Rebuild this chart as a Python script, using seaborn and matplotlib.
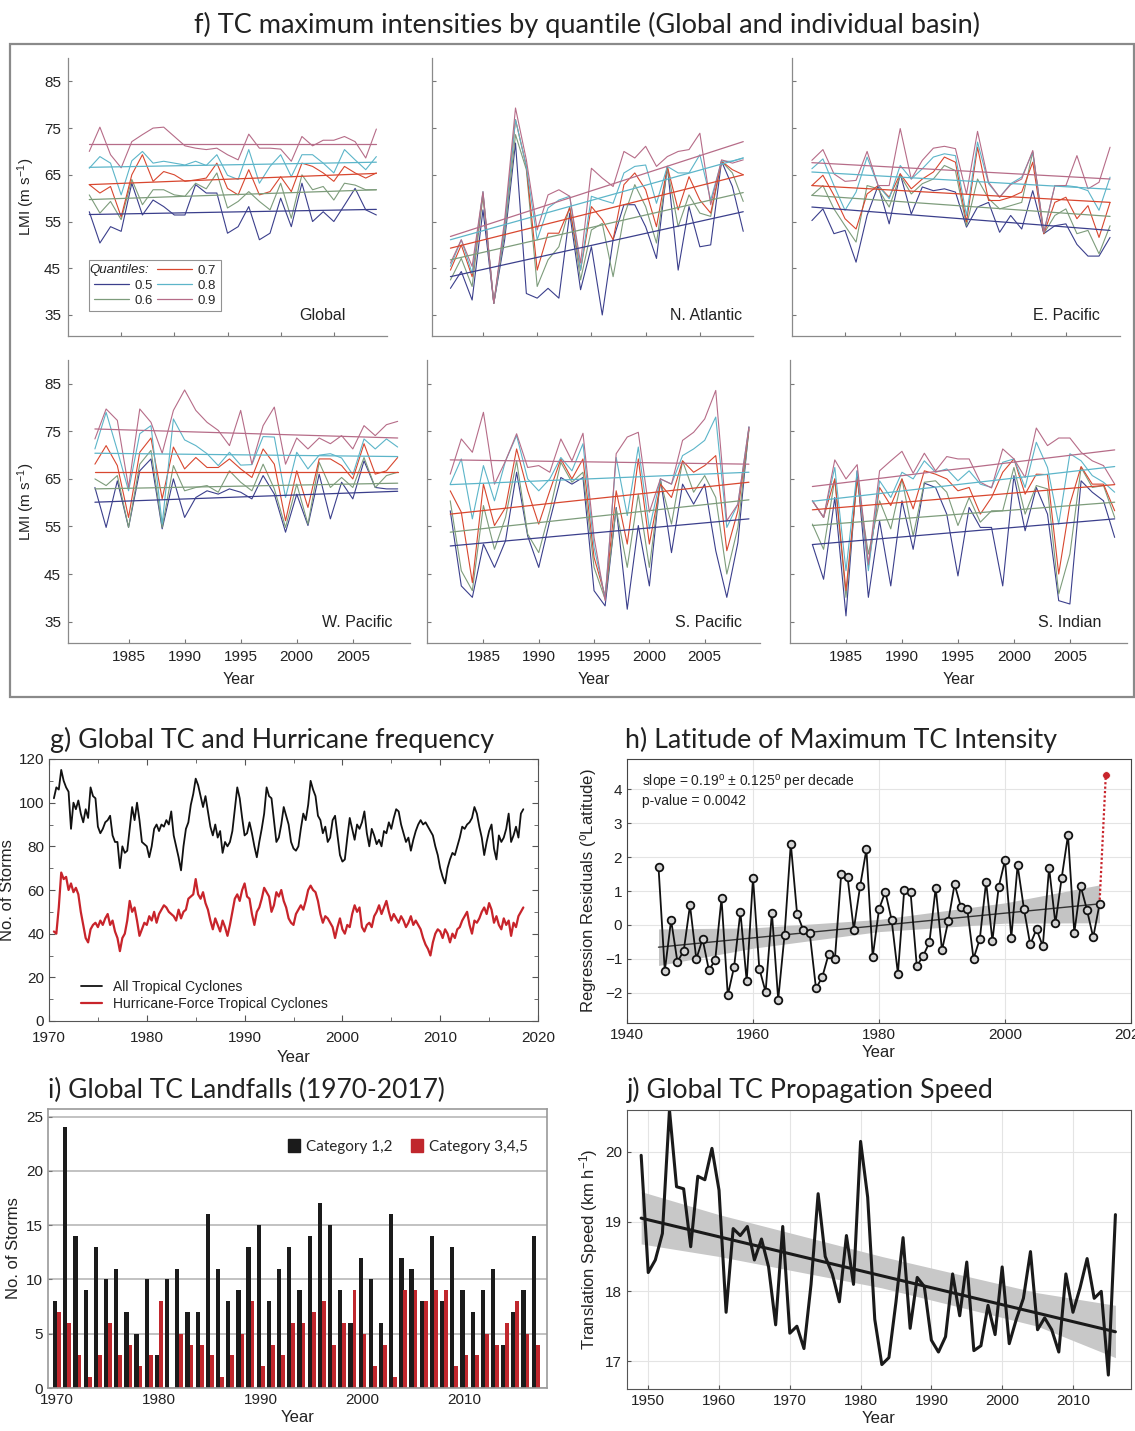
import numpy as np
import pandas as pd
import matplotlib
matplotlib.use('Agg')
import matplotlib.pyplot as plt
import seaborn as sns
from matplotlib.lines import Line2D
from matplotlib.patches import Patch, Rectangle

# ---------------- f) LMI by quantile, 1982-2009 ----------------
f_years = list(range(1982, 2010))
quantiles = ['0.5', '0.6', '0.7', '0.8', '0.9']
q_colors = ['#3b3f8c', '#7d9c7b', '#d8472f', '#5cb5c9', '#b66c88']

glob_q5 = [57.1, 50.4, 53.9, 52.9, 63.2, 56.4, 59.6, 58.2, 56.4, 56.4, 62.9, 61.1, 61.1, 52.5, 53.9, 58.2, 51.1, 52.5, 60.0, 53.9, 63.2, 55.0, 57.1, 55.0, 58.5, 62.1, 57.5, 56.4]
glob_q6 = [60.7, 56.8, 59.3, 55.4, 64.0, 58.6, 61.8, 61.8, 60.7, 60.4, 63.2, 62.0, 65.4, 57.9, 59.3, 61.4, 59.3, 57.5, 63.2, 55.7, 65.0, 61.8, 62.5, 59.6, 63.2, 62.8, 61.8, 61.8]
glob_q7 = [62.9, 61.1, 62.5, 56.0, 65.0, 69.3, 63.6, 65.7, 65.0, 63.6, 63.9, 64.3, 67.5, 62.1, 60.7, 66.1, 60.7, 61.4, 64.6, 61.4, 67.5, 66.8, 65.4, 63.6, 66.8, 65.4, 64.3, 65.4]
glob_q8 = [66.4, 68.9, 67.5, 60.7, 68.0, 70.0, 67.5, 67.9, 67.5, 67.1, 67.9, 67.0, 69.3, 64.9, 64.0, 70.4, 63.2, 66.8, 69.3, 64.6, 69.3, 69.3, 67.5, 65.4, 70.4, 68.2, 66.1, 68.9]
glob_q9 = [70.0, 75.2, 69.3, 66.5, 72.1, 73.6, 75.0, 75.2, 73.2, 71.2, 70.7, 70.4, 70.7, 69.3, 68.2, 73.7, 70.7, 70.7, 70.5, 67.9, 73.2, 71.2, 72.4, 72.4, 73.2, 72.1, 68.6, 74.8]
glob_trend_start = [56.5, 59.7, 62.9, 66.6, 71.5]
glob_trend_end = [57.6, 61.8, 65.3, 67.7, 71.5]

natl_q5 = [40.7, 44.3, 38.2, 57.5, 37.5, 51.1, 71.8, 39.6, 38.6, 40.7, 38.6, 56.8, 40.4, 49.6, 35.0, 51.1, 58.6, 58.6, 53.9, 47.1, 66.8, 44.6, 58.2, 49.6, 50.0, 67.9, 62.5, 52.9]
natl_q6 = [42.5, 47.1, 41.1, 60.4, 37.5, 52.5, 73.6, 66.1, 41.1, 46.8, 49.6, 58.2, 42.5, 53.2, 54.6, 43.2, 56.1, 62.9, 58.2, 50.4, 66.4, 53.9, 60.7, 56.8, 56.1, 67.9, 65.4, 59.3]
natl_q7 = [44.6, 50.0, 43.2, 61.1, 37.5, 53.9, 76.8, 66.8, 44.6, 52.5, 52.5, 57.9, 44.6, 58.2, 55.4, 51.1, 62.9, 65.4, 61.8, 53.9, 66.8, 57.5, 64.6, 59.6, 56.8, 67.9, 66.1, 65.0]
natl_q8 = [45.4, 51.1, 43.9, 61.4, 37.5, 53.9, 76.8, 66.8, 51.1, 57.9, 59.6, 60.4, 44.6, 60.4, 59.6, 58.9, 65.4, 66.8, 67.1, 58.9, 66.8, 65.4, 65.4, 69.3, 59.6, 67.9, 67.9, 68.6]
natl_q9 = [46.1, 51.1, 45.4, 61.4, 37.5, 55.4, 79.3, 68.2, 53.2, 60.7, 61.8, 60.4, 46.1, 66.4, 64.3, 62.5, 70.0, 68.6, 71.1, 66.8, 68.9, 70.0, 70.4, 73.9, 58.6, 68.2, 67.5, 68.2]
natl_trend_start = [43.2, 46.8, 49.3, 51.1, 51.8]
natl_trend_end = [57.1, 61.2, 65.0, 68.6, 72.1]

epac_q5 = [55.2, 57.7, 52.4, 53.1, 46.3, 56.3, 62.7, 54.5, 65.2, 56.6, 62.4, 61.6, 62.0, 61.3, 53.8, 58.1, 59.1, 52.7, 56.3, 53.4, 61.6, 52.4, 54.1, 54.5, 50.1, 47.6, 47.6, 51.6]
epac_q6 = [60.6, 62.7, 57.7, 54.1, 50.6, 62.7, 62.0, 58.1, 64.9, 60.9, 63.1, 64.1, 67.0, 65.9, 54.1, 64.1, 59.9, 57.7, 58.4, 59.1, 69.9, 52.4, 56.3, 57.7, 52.4, 53.1, 48.1, 54.1]
epac_q7 = [62.7, 64.9, 60.6, 55.6, 53.4, 60.9, 62.7, 60.2, 65.2, 62.0, 64.1, 65.6, 68.8, 67.7, 54.9, 70.9, 59.5, 59.5, 60.2, 61.3, 67.7, 52.4, 59.1, 60.2, 55.6, 58.4, 51.6, 59.1]
epac_q8 = [66.3, 68.4, 62.7, 57.4, 61.3, 68.8, 62.7, 59.9, 67.0, 64.1, 66.3, 68.8, 69.5, 69.1, 56.3, 72.0, 63.1, 60.2, 63.1, 64.5, 69.9, 52.7, 62.7, 62.7, 62.4, 61.6, 57.4, 64.5]
epac_q9 = [68.1, 70.4, 65.2, 63.6, 63.8, 70.0, 62.7, 62.7, 74.9, 64.1, 68.1, 70.7, 71.1, 70.6, 60.9, 74.3, 63.4, 60.2, 62.9, 64.1, 70.2, 52.7, 62.7, 62.7, 69.1, 62.0, 63.4, 70.9]
epac_trend_start = [58.1, 60.6, 62.7, 65.6, 67.6]
epac_trend_end = [53.1, 56.1, 59.1, 61.9, 64.1]

wpac_q5 = [63.2, 54.8, 64.6, 54.8, 66.7, 69.2, 54.5, 65.0, 56.9, 61.1, 62.5, 61.8, 62.9, 62.2, 60.8, 65.7, 61.8, 53.8, 61.8, 55.2, 66.0, 56.6, 64.3, 60.8, 68.8, 63.2, 62.9, 62.9]
wpac_q6 = [65.0, 63.6, 65.7, 54.8, 68.1, 71.0, 54.8, 67.8, 62.5, 63.2, 63.6, 62.2, 66.7, 64.3, 62.5, 68.1, 62.9, 54.8, 63.9, 55.5, 68.5, 63.2, 65.3, 63.2, 69.5, 63.2, 65.7, 66.4]
wpac_q7 = [68.1, 72.0, 67.8, 56.9, 70.6, 73.6, 60.8, 71.7, 67.1, 69.5, 67.4, 67.4, 69.2, 67.1, 65.3, 71.3, 68.1, 56.2, 66.7, 59.0, 69.2, 69.2, 67.8, 65.0, 72.4, 66.0, 66.7, 69.5]
wpac_q8 = [71.3, 79.0, 71.0, 62.5, 74.5, 76.2, 55.5, 77.6, 73.2, 72.0, 70.3, 67.8, 70.6, 67.9, 68.0, 73.9, 73.8, 61.1, 70.6, 67.1, 70.0, 70.3, 69.4, 65.9, 73.4, 71.3, 73.4, 71.7]
wpac_q9 = [73.4, 79.7, 77.3, 63.2, 79.7, 76.9, 70.4, 79.4, 83.7, 79.4, 76.9, 75.2, 72.0, 79.4, 68.1, 76.2, 80.1, 68.1, 73.6, 71.3, 73.6, 72.4, 74.1, 71.3, 76.2, 74.1, 76.4, 77.1]
wpac_trend_start = [60.1, 62.9, 66.4, 70.4, 75.5]
wpac_trend_end = [62.4, 64.1, 66.4, 69.7, 73.6]

spac_q5 = [58.3, 42.5, 40.1, 51.3, 46.4, 52.0, 66.4, 53.0, 46.4, 56.2, 65.3, 63.9, 65.3, 41.5, 38.3, 59.0, 37.6, 55.2, 42.5, 65.0, 49.5, 63.9, 59.7, 63.9, 49.9, 40.1, 51.6, 75.9]
spac_q6 = [60.4, 45.7, 41.5, 59.4, 50.2, 56.9, 68.8, 53.4, 49.5, 58.3, 68.5, 64.3, 66.4, 46.4, 39.7, 58.7, 46.4, 61.8, 46.4, 64.6, 55.5, 68.8, 62.2, 65.7, 61.1, 45.0, 54.8, 75.2]
spac_q7 = [62.5, 58.0, 43.2, 63.9, 55.2, 59.0, 71.3, 62.5, 55.5, 62.5, 69.2, 65.0, 69.2, 48.5, 40.4, 62.5, 51.3, 69.2, 51.3, 63.9, 61.1, 68.8, 66.4, 67.8, 69.9, 49.9, 58.3, 75.5]
spac_q8 = [63.9, 69.2, 56.6, 67.8, 60.4, 68.8, 74.1, 65.0, 62.5, 65.0, 69.5, 66.7, 72.4, 50.6, 40.1, 69.5, 57.3, 71.7, 54.5, 65.0, 63.9, 69.9, 71.3, 73.1, 78.0, 54.8, 59.7, 75.9]
spac_q9 = [66.0, 73.4, 70.6, 79.0, 63.9, 68.8, 74.5, 67.4, 67.8, 66.4, 73.4, 68.8, 74.6, 52.7, 39.4, 70.3, 73.8, 74.8, 58.0, 65.0, 63.9, 73.1, 74.8, 77.6, 83.6, 56.2, 59.7, 75.9]
spac_trend_start = [50.9, 53.8, 57.6, 63.8, 69.0]
spac_trend_end = [56.6, 60.6, 64.3, 66.4, 68.1]

sind_q5 = [51.2, 43.9, 61.1, 36.2, 66.7, 40.1, 56.2, 42.5, 60.4, 50.2, 64.1, 63.2, 57.6, 44.6, 59.0, 54.8, 54.8, 42.5, 65.7, 54.1, 63.2, 57.6, 39.4, 38.7, 64.6, 62.2, 60.4, 52.7]
sind_q6 = [55.5, 50.2, 65.0, 40.1, 65.0, 49.2, 60.4, 54.5, 65.0, 53.0, 64.3, 64.6, 62.2, 55.2, 61.1, 55.9, 58.3, 58.3, 67.4, 57.6, 63.6, 62.9, 40.8, 49.2, 67.4, 63.2, 63.6, 56.9]
sind_q7 = [60.4, 56.9, 65.0, 41.5, 65.0, 46.7, 63.2, 59.4, 65.0, 58.7, 66.7, 66.0, 65.0, 62.5, 63.2, 57.6, 61.1, 66.4, 69.2, 61.8, 66.0, 65.9, 45.0, 59.7, 67.6, 63.9, 63.9, 58.3]
sind_q8 = [60.4, 56.9, 67.4, 45.7, 66.7, 45.7, 64.6, 61.1, 66.4, 65.0, 68.8, 66.4, 67.1, 64.6, 66.7, 63.9, 63.2, 68.5, 69.2, 63.2, 72.7, 67.4, 55.5, 70.3, 68.8, 65.7, 64.3, 62.2]
sind_q9 = [60.4, 56.9, 69.0, 65.0, 68.0, 47.1, 66.7, 68.8, 70.8, 66.2, 70.4, 66.7, 69.7, 69.2, 69.2, 64.3, 63.1, 71.3, 69.2, 65.3, 75.7, 72.0, 73.6, 73.6, 70.6, 68.8, 67.8, 63.9]
sind_trend_start = [51.2, 55.2, 58.5, 60.3, 63.4]
sind_trend_end = [56.6, 60.1, 63.8, 67.6, 71.1]

# ---------------- g) storm counts (running, quarterly samples from mid-1970) ----------------
g_start, g_step = 1970.5, 0.25
all_tc = [102, 107,
          106, 115, 110, 107, 105, 88, 100, 97, 101, 95, 91, 97, 93, 107, 103, 102,
          89, 86, 88, 91, 92, 94, 85, 82, 82, 70, 80, 77, 78, 88, 98, 92,
          100, 92, 82, 81, 80, 75, 80, 88, 90, 87, 90, 89, 92, 90, 96, 85,
          80, 75, 69, 80, 88, 91, 99, 104, 111, 108, 103, 98, 103, 96, 89, 85,
          90, 84, 87, 77, 82, 80, 82, 87, 97, 107, 102, 93, 85, 86, 91, 86,
          80, 75, 82, 88, 95, 107, 103, 102, 92, 82, 84, 90, 98, 94, 90, 82,
          79, 78, 80, 88, 95, 92, 99, 110, 106, 103, 94, 92, 86, 89, 82, 84,
          92, 94, 85, 76, 73, 74, 84, 93, 88, 83, 90, 88, 91, 96, 86, 80,
          88, 85, 81, 83, 80, 87, 86, 91, 88, 93, 97, 96, 90, 86, 82, 84,
          78, 83, 87, 90, 92, 90, 91, 89, 87, 85, 80, 76, 70, 66, 63, 70,
          74, 77, 76, 80, 84, 89, 88, 90, 91, 93, 98, 95, 89, 84, 76, 82,
          87, 90, 79, 74, 85, 82, 84, 88, 95, 82, 85, 89, 84, 95, 97]
hurricane_tc = [41, 40,
                52, 68, 65, 66, 60, 63, 59, 61, 58, 50, 44, 38, 36, 42, 44, 45,
                43, 46, 44, 47, 49, 44, 46, 41, 38, 32, 38, 40, 46, 55, 50, 52,
                46, 39, 42, 45, 44, 48, 46, 50, 45, 49, 51, 53, 52, 50, 49, 48,
                46, 51, 47, 50, 51, 56, 57, 58, 65, 58, 56, 59, 54, 51, 46, 42,
                47, 44, 41, 46, 43, 39, 44, 50, 56, 58, 55, 60, 63, 57, 56, 49,
                44, 50, 52, 56, 61, 59, 57, 50, 53, 59, 57, 60, 55, 52, 47, 45,
                44, 49, 51, 53, 51, 55, 60, 62, 60, 59, 55, 49, 45, 48, 47, 45,
                43, 38, 43, 47, 42, 40, 44, 43, 49, 53, 50, 52, 43, 41, 44, 45,
                43, 48, 50, 53, 49, 52, 55, 50, 46, 49, 47, 45, 48, 46, 43, 45,
                48, 44, 46, 44, 42, 38, 35, 33, 30, 36, 40, 42, 41, 38, 42, 40,
                36, 40, 38, 42, 43, 46, 48, 50, 44, 40, 46, 45, 47, 50, 52, 49,
                54, 51, 45, 48, 44, 42, 47, 44, 46, 39, 45, 43, 48, 50, 52]

# ---------------- h) latitude of LMI residuals ----------------
h_years = list(range(1945, 2016))
h_resid = [1.71, -1.36, 0.14, -1.09, -0.77, 0.58, -1.01, -0.42, -1.34, -1.04,
           0.78, -2.08, -1.24, 0.38, -1.67, 1.39, -1.29, -1.98, 0.36, -2.21,
           -0.31, 2.40, 0.32, -0.16, -0.24, -1.88, -1.54, -0.87, -1.01, 1.50,
           1.42, -0.14, 1.14, 2.23, -0.95, 0.46, 0.98, 0.15, -1.44, 1.02,
           0.98, -1.22, -0.92, -0.52, 1.09, -0.75, 0.12, 1.20, 0.53, 0.48,
           -1.00, -0.42, 1.27, -0.47, 1.12, 1.91, -0.38, 1.76, 0.48, -0.58,
           -0.13, -0.63, 1.69, 0.04, 1.39, 2.65, -0.23, 1.15, 0.45, -0.37, 0.61]
h_last_year, h_last_value = 2016, 4.42
h_trend_years = [1945, 2015]
h_trend_vals = [-0.66, 0.62]
h_band_years = [1945, 1960, 1980, 2000, 2015]
h_band_lo = [-1.20, -0.69, -0.20, 0.05, 0.06]
h_band_hi = [-0.12, -0.09, 0.16, 0.65, 1.18]

# ---------------- i) landfalls ----------------
i_years = list(range(1970, 2018))
cat12 = [8, 24, 14, 9, 13, 10, 11, 7, 5, 10, 3, 10, 11, 7, 7, 16, 11, 8, 9, 13,
         15, 8, 11, 13, 9, 14, 17, 15, 9, 6, 12, 10, 6, 16, 12, 11, 8, 14, 8, 13,
         9, 7, 9, 11, 4, 7, 9, 14]
cat345 = [7, 6, 3, 1, 3, 6, 3, 4, 2, 3, 8, 0, 5, 4, 4, 3, 1, 3, 5, 8,
          2, 4, 3, 6, 6, 7, 8, 4, 6, 9, 5, 2, 4, 1, 9, 9, 8, 9, 9, 2,
          3, 3, 5, 4, 6, 8, 5, 4]

# ---------------- j) translation speed ----------------
j_years = list(range(1949, 2017))
j_speed = [19.95, 18.27, 18.45, 18.83, 20.6, 19.5, 19.47, 18.64, 19.65, 19.6,
           20.05, 19.45, 17.7, 18.9, 18.8, 18.93, 18.45, 18.75, 18.35, 17.52,
           18.93, 17.4, 17.5, 17.18, 18.1, 19.4, 18.5, 18.25, 17.85, 18.8,
           18.1, 20.15, 19.35, 17.6, 16.95, 17.05, 17.85, 18.77, 17.47, 18.2,
           18.07, 17.3, 17.13, 17.35, 18.25, 17.65, 18.42, 17.15, 17.22, 17.8,
           17.38, 18.35, 17.25, 17.6, 17.9, 18.57, 17.45, 17.62, 17.45, 17.13,
           18.25, 17.7, 18.05, 18.47, 17.9, 18.0, 16.8, 19.1]
j_trend_years = [1949, 2016]
j_trend_vals = [19.05, 17.42]
j_band_years = [1949, 1960, 1983, 2005, 2016]
j_band_lo = [18.68, 18.50, 18.05, 17.50, 17.05]
j_band_hi = [19.43, 19.10, 18.50, 17.98, 17.80]

# ---------------- drawing ----------------
sns.set_style('ticks')
plt.rcParams['font.family'] = ['Liberation Sans', 'DejaVu Sans']
plt.rcParams['mathtext.default'] = 'regular'
TITLE_FONT = ['Lato', 'DejaVu Sans']

W, H = 1135, 1431
fig = plt.figure(figsize=(W / 100, H / 100), dpi=100)


def px_axes(l, t, r, b):
    return fig.add_axes([l / W, 1 - b / H, (r - l) / W, (b - t) / H])


def px_text(x, y, s, **kw):
    fig.text(x / W, 1 - y / H, s, **kw)


# panel f
px_text(587, 25, 'f) TC maximum intensities by quantile (Global and individual basin)',
        ha='center', va='center', fontsize=19.5, family=TITLE_FONT, color='#222')
fig.patches.append(Rectangle((10 / W, 1 - 697 / H), 1124 / W, 653 / H, transform=fig.transFigure,
                             fill=False, edgecolor='#8a8a8a', lw=1.6))

basins = [
    ('Global', [glob_q5, glob_q6, glob_q7, glob_q8, glob_q9], glob_trend_start, glob_trend_end,
     (68, 58, 387, 336), (1980.0, 2010.0), 0.87),
    ('N. Atlantic', [natl_q5, natl_q6, natl_q7, natl_q8, natl_q9], natl_trend_start, natl_trend_end,
     (432, 58, 753, 336), (1980.3, 2009.9), 0.965),
    ('E. Pacific', [epac_q5, epac_q6, epac_q7, epac_q8, epac_q9], epac_trend_start, epac_trend_end,
     (792, 58, 1120, 336), (1980.2, 2009.9), 0.94),
    ('W. Pacific', [wpac_q5, wpac_q6, wpac_q7, wpac_q8, wpac_q9], wpac_trend_start, wpac_trend_end,
     (68, 360, 410, 643), (1979.6, 2010.1), 0.95),
    ('S. Pacific', [spac_q5, spac_q6, spac_q7, spac_q8, spac_q9], spac_trend_start, spac_trend_end,
     (427, 360, 760, 643), (1979.9, 2010.0), 0.945),
    ('S. Indian', [sind_q5, sind_q6, sind_q7, sind_q8, sind_q9], sind_trend_start, sind_trend_end,
     (790, 360, 1127, 643), (1980.0, 2010.1), 0.925),
]
palette = dict(zip(quantiles, q_colors))

for k, (name, series, t0, t1, box, xlim, lab_x) in enumerate(basins):
    ax = px_axes(*box)
    df = pd.DataFrame({'year': f_years * 5,
                       'lmi': np.concatenate(series),
                       'q': np.repeat(quantiles, len(f_years))})
    sns.lineplot(data=df, x='year', y='lmi', hue='q', palette=palette, lw=0.8,
                 legend=False, ax=ax)
    tr = pd.DataFrame({'year': [f_years[0], f_years[-1]] * 5,
                       'lmi': np.ravel(np.column_stack([t0, t1])),
                       'q': np.repeat(quantiles, 2)})
    sns.lineplot(data=tr, x='year', y='lmi', hue='q', palette=palette, lw=0.9,
                 legend=False, ax=ax)
    ax.set_xlim(*xlim)
    ax.set_ylim(30.5, 90)
    ax.set_xticks([1985, 1990, 1995, 2000, 2005])
    ax.set_yticks([35, 45, 55, 65, 75, 85])
    ax.tick_params(direction='in', length=3, width=0.8, color='#777', labelsize=11,
                   labelcolor='#222', pad=5)
    for s in ['top', 'right']:
        ax.spines[s].set_visible(False)
    for s in ['left', 'bottom']:
        ax.spines[s].set_color('#8a8a8a')
        ax.spines[s].set_linewidth(0.9)
    ax.set_xlabel('Year' if k >= 3 else '', fontsize=11.5, color='#222', labelpad=6)
    ax.set_ylabel('LMI (m s$^{-1}$)' if k % 3 == 0 else '', fontsize=11, color='#222', labelpad=5)
    if k < 3:
        ax.set_xticklabels([])
    if k % 3 != 0:
        ax.set_yticklabels([])
    ax.text(lab_x, 0.045, name, transform=ax.transAxes, ha='right', va='bottom',
            fontsize=11.5, color='#222')
    if name == 'Global':
        handles = [Line2D([], [], color='none')] + \
                  [Line2D([], [], color=c, lw=0.9) for c in q_colors]
        labels = [''] + quantiles
        leg = ax.legend(handles, labels, ncol=2, loc='lower left', bbox_to_anchor=(0.045, 0.065),
                        fontsize=9.5, frameon=True, fancybox=False, edgecolor='#777',
                        handlelength=2.7, handletextpad=0.4, columnspacing=0.3,
                        labelspacing=0.2, borderpad=0.35)
        leg.get_frame().set_linewidth(0.8)
        ax.text(0.066, 0.238, 'Quantiles:', transform=ax.transAxes, fontsize=9.5,
                style='italic', color='#222', va='center', ha='left', zorder=10)

# panel g
ax = px_axes(49, 759, 538, 1021)
g_time = g_start + g_step * np.arange(len(all_tc))
sns.lineplot(x=g_time, y=all_tc, color='#111111', lw=1.3, ax=ax, label='All Tropical Cyclones')
sns.lineplot(x=g_time, y=hurricane_tc, color='#c8242b', lw=1.6, ax=ax,
             label='Hurricane-Force Tropical Cyclones')
ax.set_xlim(1970, 2020)
ax.set_ylim(0, 120)
ax.set_xticks(range(1970, 2021, 10))
ax.set_xticks(range(1975, 2020, 10), minor=True)
ax.set_yticks(range(0, 121, 20))
ax.set_yticks(range(10, 120, 20), minor=True)
ax.tick_params(which='both', direction='in', top=True, right=True, length=4, color='#555',
               labelsize=11, labelcolor='#222')
ax.tick_params(axis='x', which='major', pad=7)
ax.tick_params(which='minor', length=3)
for s in ax.spines.values():
    s.set_color('#555')
ax.set_xlabel('Year', fontsize=12, color='#222', labelpad=4)
ax.set_ylabel('No. of Storms', fontsize=12, color='#222')
ax.yaxis.set_label_coords(-0.069, 0.5)
ax.legend(loc='lower left', bbox_to_anchor=(0.04, -0.01), frameon=False, fontsize=10,
          handlelength=1.5, labelspacing=0.2, labelcolor='#222')
px_text(50, 748, 'g) Global TC and Hurricane frequency', ha='left', va='baseline',
        fontsize=19.3, family=TITLE_FONT, color='#222')

# panel h
ax = px_axes(627, 759, 1131, 1023)
ax.fill_between(h_band_years, h_band_lo, h_band_hi, color='#c4c4c4', lw=0)
sns.lineplot(x=h_trend_years, y=h_trend_vals, color='#333', lw=1.0, ax=ax)
sns.lineplot(x=[h_years[-1], h_last_year], y=[h_resid[-1], h_last_value], color='#c8242b',
             lw=1.6, ls=(0, (1, 1)), ax=ax)
sns.lineplot(x=h_years, y=h_resid, color='#111', lw=1.3, marker='o', markersize=5.5,
             markerfacecolor='#d4d4d4', markeredgecolor='#111', markeredgewidth=1.3, ax=ax)
sns.scatterplot(x=[h_last_year], y=[h_last_value], color='#c8242b', s=30, ax=ax)
ax.set_xlim(1940, 2020)
ax.set_ylim(-2.9, 4.9)
ax.set_xticks([1940, 1960, 1980, 2000, 2020])
ax.set_yticks(range(-2, 5))
ax.grid(True, color='#e4e4e4', lw=0.8)
ax.tick_params(direction='in', length=3, color='#555', labelsize=11, labelcolor='#222')
for s in ax.spines.values():
    s.set_color('#444')
ax.set_xlabel('Year', fontsize=12, color='#222', labelpad=2)
ax.set_ylabel('Regression Residuals ($^{o}$Latitude)', fontsize=12, color='#222', labelpad=4)
ax.text(0.03, 0.91, 'slope = 0.19$^{o}$ $\\pm$ 0.125$^{o}$ per decade', transform=ax.transAxes,
        fontsize=10, color='#222', va='center')
ax.text(0.03, 0.84, 'p-value = 0.0042', transform=ax.transAxes, fontsize=10, color='#222',
        va='center')
px_text(625, 748, 'h) Latitude of Maximum TC Intensity', ha='left', va='baseline',
        fontsize=19.3, family=TITLE_FONT, color='#222')

# panel i
ax = px_axes(48, 1109, 547, 1388)
ax.set_axisbelow(True)
ax.grid(True, axis='y', color='#bdbdbd', lw=1.3)
ax.bar(np.array(i_years) - 0.2, cat12, width=0.42, color='#1b1b1b', lw=0)
ax.bar(np.array(i_years) + 0.19, cat345, width=0.37, color='#c0272d', lw=0)
ax.set_xlim(1969.1, 2018.1)
ax.set_ylim(0, 25.7)
ax.set_xticks(range(1970, 2011, 10))
ax.set_yticks(range(0, 26, 5))
ax.tick_params(direction='in', length=3, color='#777', labelsize=11, labelcolor='#222')
for s in ax.spines.values():
    s.set_color('#9a9a9a')
    s.set_linewidth(1.2)
ax.set_xlabel('Year', fontsize=12, color='#222', labelpad=2)
ax.set_ylabel('No. of Storms', fontsize=12, color='#222', labelpad=4)
ax.legend([Patch(color='#1b1b1b'), Patch(color='#c0272d')], ['Category 1,2', 'Category 3,4,5'],
          ncol=2, loc='upper right', bbox_to_anchor=(0.99, 0.94), frameon=False,
          prop={'family': TITLE_FONT, 'size': 11}, handlelength=0.8, handleheight=0.9,
          handletextpad=0.4, columnspacing=1.2)
px_text(48, 1098, 'i) Global TC Landfalls (1970-2017)', ha='left', va='baseline',
        fontsize=19, family=TITLE_FONT, color='#222')

# panel j
ax = px_axes(627, 1110, 1131, 1389)
ax.fill_between(j_band_years, j_band_lo, j_band_hi, color='#c8c8c8', lw=0)
sns.lineplot(x=j_years, y=j_speed, color='#1a1a1a', lw=2.2, ax=ax)
sns.lineplot(x=j_trend_years, y=j_trend_vals, color='#1a1a1a', lw=2.2, ax=ax)
ax.set_xlim(1947, 2018.2)
ax.set_ylim(16.6, 20.6)
ax.set_xticks(range(1950, 2011, 10))
ax.set_yticks([17, 18, 19, 20])
ax.grid(True, color='#e4e4e4', lw=0.8)
ax.tick_params(direction='in', length=3, color='#555', labelsize=11, labelcolor='#222')
for s in ax.spines.values():
    s.set_color('#555')
ax.set_xlabel('Year', fontsize=12, color='#222', labelpad=2)
ax.set_ylabel('Translation Speed (km h$^{-1}$)', fontsize=12, color='#222', labelpad=4)
px_text(627, 1098, 'j) Global TC Propagation Speed', ha='left', va='baseline',
        fontsize=19.3, family=TITLE_FONT, color='#222')

fig.savefig('out.png', dpi=100)
